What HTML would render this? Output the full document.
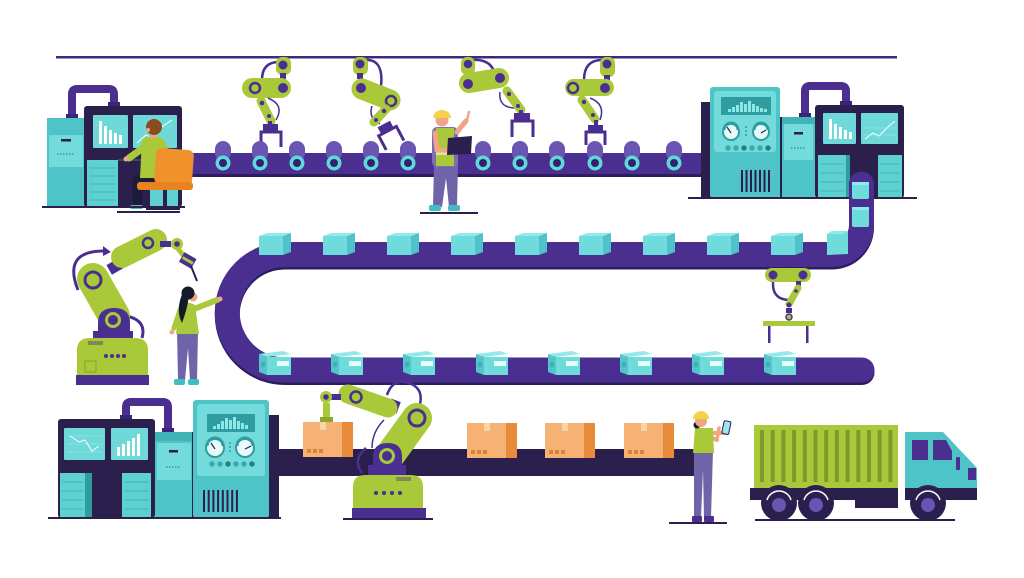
<!DOCTYPE html>
<html><head><meta charset="utf-8"><style>
html,body{margin:0;padding:0;background:#fff;}
svg{display:block}
</style></head><body>
<svg width="1024" height="578" viewBox="0 0 1024 578" xmlns="http://www.w3.org/2000/svg">
<rect width="1024" height="578" fill="#fff"/>
<!-- top rail -->
<rect x="56" y="56" width="841" height="2.5" fill="#3d2a7f"/>

<!-- ============ TOP ROBOTS ============ -->
<!-- robot 1 -->
<g>
<path d="M279,62 Q262,62 262,80" stroke="#4a2f90" stroke-width="2.5" fill="none"/>
<rect x="276" y="57" width="15" height="18" rx="6" fill="#a9c93a"/>
<circle cx="283" cy="65" r="4.5" fill="#4a2f90"/>
<rect x="280" y="73" width="6" height="6" fill="#4a2f90"/>
<rect x="242" y="78" width="49" height="20" rx="10" fill="#a9c93a"/>
<circle cx="255" cy="88" r="5" fill="#a9c93a" stroke="#4a2f90" stroke-width="2.5"/>
<circle cx="283" cy="88" r="5" fill="#4a2f90"/>
<path d="M268,98 Q285,105 276,120" stroke="#4a2f90" stroke-width="1.5" fill="none"/>
<line x1="261" y1="101" x2="271" y2="121" stroke="#a9c93a" stroke-width="9" stroke-linecap="round"/>
<circle cx="262" cy="103" r="2.3" fill="#4a2f90"/><circle cx="269" cy="116" r="2" fill="#4a2f90"/>
<rect x="268" y="121" width="4" height="4" fill="#4a2f90"/>
<rect x="263" y="124" width="15" height="7" fill="#4a2f90"/>
<path d="M261,147 V132 H281 V147" stroke="#4a2f90" stroke-width="3" fill="none"/>
</g>
<!-- robot 2 -->
<g>
<path d="M364,60 Q384,58 381,86" stroke="#4a2f90" stroke-width="2.5" fill="none"/>
<rect x="353" y="57" width="15" height="18" rx="6" fill="#a9c93a"/>
<circle cx="360" cy="64" r="4.5" fill="#4a2f90"/>
<rect x="357" y="73" width="6" height="6" fill="#4a2f90"/>
<line x1="362" y1="89" x2="390" y2="100" stroke="#a9c93a" stroke-width="21" stroke-linecap="round"/>
<circle cx="361" cy="88" r="5" fill="#4a2f90"/>
<circle cx="391" cy="101" r="5" fill="#a9c93a" stroke="#4a2f90" stroke-width="2.5"/>
<path d="M372,106 Q368,118 380,124" stroke="#4a2f90" stroke-width="1.5" fill="none"/>
<line x1="386" y1="109" x2="374" y2="122" stroke="#a9c93a" stroke-width="9" stroke-linecap="round"/>
<circle cx="384" cy="111" r="2.2" fill="#4a2f90"/><circle cx="376" cy="120" r="2" fill="#4a2f90"/>
<g transform="rotate(-28 388 132)">
<rect x="381" y="123" width="14" height="7" fill="#4a2f90"/>
<path d="M378,147 V131 H398 V147" stroke="#4a2f90" stroke-width="3" fill="none"/>
</g>
</g>
<!-- robot 3 -->
<g>
<path d="M472,60 Q494,58 496,80" stroke="#4a2f90" stroke-width="2.5" fill="none"/>
<rect x="461" y="57" width="14" height="18" rx="6" fill="#a9c93a"/>
<circle cx="468" cy="64" r="4.3" fill="#4a2f90"/>
<line x1="469" y1="83" x2="499" y2="78" stroke="#a9c93a" stroke-width="20" stroke-linecap="round"/>
<circle cx="468" cy="84" r="5" fill="#4a2f90"/>
<circle cx="500" cy="78" r="5" fill="#4a2f90"/>
<path d="M500,92 Q498,108 516,108" stroke="#4a2f90" stroke-width="1.5" fill="none"/>
<line x1="507" y1="91" x2="521" y2="110" stroke="#a9c93a" stroke-width="9" stroke-linecap="round"/>
<circle cx="509" cy="94" r="2.2" fill="#4a2f90"/><circle cx="518" cy="106" r="2" fill="#4a2f90"/>
<rect x="519" y="110" width="4" height="4" fill="#4a2f90"/>
<rect x="514" y="113" width="16" height="7" fill="#4a2f90"/>
<path d="M512,137 V121 H533 V137" stroke="#4a2f90" stroke-width="3" fill="none"/>
</g>
<!-- robot 4 -->
<g>
<path d="M602,60 Q584,60 584,80" stroke="#4a2f90" stroke-width="2.5" fill="none"/>
<rect x="600" y="57" width="15" height="20" rx="6" fill="#a9c93a"/>
<circle cx="607" cy="64" r="4.5" fill="#4a2f90"/>
<rect x="604" y="75" width="6" height="5" fill="#4a2f90"/>
<rect x="565" y="79" width="49" height="17" rx="8.5" fill="#a9c93a"/>
<circle cx="573" cy="88" r="5" fill="#a9c93a" stroke="#4a2f90" stroke-width="2.5"/>
<circle cx="605" cy="88" r="5" fill="#4a2f90"/>
<path d="M590,98 Q606,104 600,120" stroke="#4a2f90" stroke-width="1.5" fill="none"/>
<line x1="582" y1="100" x2="595" y2="119" stroke="#a9c93a" stroke-width="9" stroke-linecap="round"/>
<circle cx="584" cy="102" r="2.2" fill="#4a2f90"/><circle cx="593" cy="115" r="2" fill="#4a2f90"/>
<rect x="594" y="120" width="4" height="6" fill="#4a2f90"/>
<rect x="588" y="125" width="15" height="7" fill="#4a2f90"/>
<path d="M586,145 V132 H605 V145" stroke="#4a2f90" stroke-width="3" fill="none"/>
</g>

<!-- ============ TOP BELT ============ -->
<rect x="180" y="153" width="525" height="24" fill="#4a2f90"/>
<rect x="180" y="174" width="525" height="3" fill="#2c1d5e"/>
<g>
<rect x="215" y="141" width="16" height="20" rx="8" fill="#6b55b3"/><circle cx="223" cy="163" r="7.5" fill="#5ed8d8"/><circle cx="223" cy="163" r="4" fill="#34206e"/>
<rect x="252" y="141" width="16" height="20" rx="8" fill="#6b55b3"/><circle cx="260" cy="163" r="7.5" fill="#5ed8d8"/><circle cx="260" cy="163" r="4" fill="#34206e"/>
<rect x="289" y="141" width="16" height="20" rx="8" fill="#6b55b3"/><circle cx="297" cy="163" r="7.5" fill="#5ed8d8"/><circle cx="297" cy="163" r="4" fill="#34206e"/>
<rect x="326" y="141" width="16" height="20" rx="8" fill="#6b55b3"/><circle cx="334" cy="163" r="7.5" fill="#5ed8d8"/><circle cx="334" cy="163" r="4" fill="#34206e"/>
<rect x="363" y="141" width="16" height="20" rx="8" fill="#6b55b3"/><circle cx="371" cy="163" r="7.5" fill="#5ed8d8"/><circle cx="371" cy="163" r="4" fill="#34206e"/>
<rect x="400" y="141" width="16" height="20" rx="8" fill="#6b55b3"/><circle cx="408" cy="163" r="7.5" fill="#5ed8d8"/><circle cx="408" cy="163" r="4" fill="#34206e"/>
<rect x="475" y="141" width="16" height="20" rx="8" fill="#6b55b3"/><circle cx="483" cy="163" r="7.5" fill="#5ed8d8"/><circle cx="483" cy="163" r="4" fill="#34206e"/>
<rect x="512" y="141" width="16" height="20" rx="8" fill="#6b55b3"/><circle cx="520" cy="163" r="7.5" fill="#5ed8d8"/><circle cx="520" cy="163" r="4" fill="#34206e"/>
<rect x="549" y="141" width="16" height="20" rx="8" fill="#6b55b3"/><circle cx="557" cy="163" r="7.5" fill="#5ed8d8"/><circle cx="557" cy="163" r="4" fill="#34206e"/>
<rect x="587" y="141" width="16" height="20" rx="8" fill="#6b55b3"/><circle cx="595" cy="163" r="7.5" fill="#5ed8d8"/><circle cx="595" cy="163" r="4" fill="#34206e"/>
<rect x="624" y="141" width="16" height="20" rx="8" fill="#6b55b3"/><circle cx="632" cy="163" r="7.5" fill="#5ed8d8"/><circle cx="632" cy="163" r="4" fill="#34206e"/>
<rect x="666" y="141" width="16" height="20" rx="8" fill="#6b55b3"/><circle cx="674" cy="163" r="7.5" fill="#5ed8d8"/><circle cx="674" cy="163" r="4" fill="#34206e"/>
</g>

<!-- ============ TOP-LEFT MACHINE ============ -->
<path d="M72,118 V94 Q72,89 77,89 H109 Q114,89 114,94 V106" stroke="#4a2f90" stroke-width="8" fill="none"/>
<rect x="66" y="114" width="12" height="5" fill="#3a2478"/>
<rect x="108" y="102" width="12" height="5" fill="#3a2478"/>
<rect x="47" y="118" width="38" height="89" fill="#4ec4c6"/>
<rect x="49" y="135" width="34" height="32" fill="#74dbdc"/>
<rect x="61" y="139" width="10" height="2.5" fill="#2b1f4d"/>
<line x1="57" y1="154" x2="75" y2="154" stroke="#2f9d9f" stroke-width="1.5" stroke-dasharray="1.5 1.5"/>
<rect x="84" y="106" width="98" height="101" rx="3" fill="#2b1f4d"/>
<rect x="93" y="115" width="35" height="33" rx="1" fill="#6fd9da"/>
<rect x="99" y="121" width="3" height="23" fill="#fff"/><rect x="104" y="126" width="3" height="18" fill="#fff"/><rect x="109" y="130" width="3" height="14" fill="#fff"/><rect x="114" y="133" width="3" height="11" fill="#fff"/><rect x="119" y="135" width="3" height="9" fill="#fff"/>
<rect x="133" y="115" width="44" height="33" rx="1" fill="#6fd9da"/>
<polyline points="137,143 146,135 152,138 163,126 172,120" stroke="#fff" stroke-width="1" fill="none"/>
<rect x="87" y="160" width="31" height="47" fill="#5fd0d0"/>
<g stroke="#3fb3b5" stroke-width="1"><line x1="89" y1="168" x2="116" y2="168"/><line x1="89" y1="176" x2="116" y2="176"/><line x1="89" y1="184" x2="116" y2="184"/><line x1="89" y1="192" x2="116" y2="192"/><line x1="89" y1="200" x2="116" y2="200"/></g>
<rect x="118" y="159" width="45" height="2" fill="#4a4266"/>
<rect x="150" y="188" width="28" height="19" fill="#5fd0d0"/>
<!-- seated man -->
<path d="M140,175 H162 V188 H143 L142,206 H133 L132,184 Q132,175 140,175 Z" fill="#1e1a3a"/>
<rect x="130" y="205" width="13" height="4" rx="2" fill="#3fc0c0"/>
<path d="M142,140 Q145,136 155,136 Q166,137 168,150 L168,178 H140 Z" fill="#a9c93a"/>
<line x1="146" y1="146" x2="129" y2="158" stroke="#a9c93a" stroke-width="7" stroke-linecap="round"/>
<circle cx="126" cy="159" r="2.5" fill="#f0a585"/>
<rect x="150" y="132" width="6" height="6" fill="#f0a585"/>
<circle cx="154" cy="127" r="8" fill="#8a4b1e"/>
<circle cx="148" cy="130" r="2" fill="#f0a585"/>
<rect x="155" y="149" width="38" height="36" rx="6" fill="#f0922c" transform="rotate(4 174 167)"/>
<rect x="137" y="182" width="56" height="8" rx="3" fill="#e8831f"/>
<rect x="163" y="190" width="4" height="18" fill="#2b1f4d"/>
<rect x="146" y="207" width="34" height="3" fill="#2b1f4d"/>
<rect x="42" y="206" width="143" height="2" fill="#2b1f4d"/>
<rect x="117" y="211" width="63" height="2" fill="#2b1f4d"/>

<!-- ============ TOP-RIGHT MACHINE ============ -->
<rect x="701" y="102" width="10" height="96" fill="#2b1f4d"/>
<rect x="710" y="87" width="70" height="111" rx="3" fill="#4ec4c6"/>
<rect x="714" y="91" width="62" height="61" rx="3" fill="#74dbdc"/>
<rect x="721" y="97" width="50" height="18" fill="#2f9d9f"/>
<g fill="#8ee8e8">
<rect x="728" y="109" width="3" height="3"/><rect x="732" y="107" width="3" height="5"/><rect x="736" y="105" width="3" height="7"/><rect x="740" y="102" width="3" height="10"/><rect x="744" y="104" width="3" height="8"/><rect x="748" y="101" width="3" height="11"/><rect x="752" y="104" width="3" height="8"/><rect x="756" y="106" width="3" height="6"/><rect x="760" y="108" width="3" height="4"/><rect x="764" y="109" width="3" height="3"/>
</g>
<circle cx="731" cy="132" r="8" fill="#e8fbfb" stroke="#2f9d9f" stroke-width="2"/>
<path d="M724,130 A7,7 0 0 1 738,130" stroke="#2f9d9f" stroke-width="3" fill="none"/>
<line x1="731" y1="133" x2="727" y2="127" stroke="#2b1f4d" stroke-width="1.2"/>
<circle cx="761" cy="132" r="8" fill="#e8fbfb" stroke="#2f9d9f" stroke-width="2"/>
<path d="M754,130 A7,7 0 0 1 768,130" stroke="#2f9d9f" stroke-width="3" fill="none"/>
<line x1="761" y1="133" x2="766" y2="130" stroke="#2b1f4d" stroke-width="1.2"/>
<g fill="#2f9d9f"><circle cx="746" cy="127" r="1"/><circle cx="746" cy="131" r="1"/><circle cx="746" cy="135" r="1"/></g>
<g fill="#3aa7a9"><circle cx="728" cy="148" r="2.7"/><circle cx="736" cy="148" r="2.7"/><circle cx="744" cy="148" r="2.7" fill="#1f7f81"/><circle cx="752" cy="148" r="2.7"/><circle cx="760" cy="148" r="2.7"/><circle cx="768" cy="148" r="2.7" fill="#1f7f81"/></g>
<g fill="#2b1f4d"><rect x="741" y="170" width="2" height="22"/><rect x="745.5" y="170" width="2" height="22"/><rect x="750" y="170" width="2" height="22"/><rect x="754.5" y="170" width="2" height="22"/><rect x="759" y="170" width="2" height="22"/><rect x="763.5" y="170" width="2" height="22"/><rect x="768" y="170" width="2" height="22"/></g>
<rect x="780" y="117" width="2" height="81" fill="#2b1f4d"/>
<path d="M805,117 V91 Q805,86 810,86 H841 Q846,86 846,91 V105" stroke="#4a2f90" stroke-width="8" fill="none"/>
<rect x="799" y="113" width="12" height="5" fill="#3a2478"/>
<rect x="840" y="101" width="12" height="5" fill="#3a2478"/>
<rect x="782" y="117" width="33" height="81" fill="#4ec4c6"/>
<rect x="782" y="117" width="33" height="7" fill="#3fb3b5"/>
<rect x="784" y="124" width="29" height="36" fill="#74dbdc"/>
<rect x="794" y="132" width="9" height="2.5" fill="#2b1f4d"/>
<line x1="791" y1="148" x2="806" y2="148" stroke="#2f9d9f" stroke-width="1.5" stroke-dasharray="1.5 1.5"/>
<rect x="815" y="105" width="89" height="93" rx="3" fill="#2b1f4d"/>
<rect x="823" y="113" width="33" height="31" rx="1" fill="#6fd9da"/>
<rect x="829" y="119" width="3" height="20" fill="#fff"/><rect x="834" y="124" width="3" height="15" fill="#fff"/><rect x="839" y="127" width="3" height="12" fill="#fff"/><rect x="844" y="130" width="3" height="9" fill="#fff"/><rect x="849" y="132" width="3" height="7" fill="#fff"/>
<rect x="861" y="113" width="37" height="31" rx="1" fill="#6fd9da"/>
<polyline points="865,139 873,133 879,136 888,127 895,121" stroke="#fff" stroke-width="1" fill="none"/>
<line x1="864" y1="135" x2="896" y2="135" stroke="#9ee9ea" stroke-width="0.6"/>
<line x1="864" y1="128" x2="896" y2="128" stroke="#9ee9ea" stroke-width="0.6"/>
<rect x="818" y="155" width="28" height="43" fill="#5fd0d0"/>
<rect x="878" y="155" width="24" height="43" fill="#5fd0d0"/>
<rect x="846" y="155" width="4" height="43" fill="#2f9d9f"/>
<g stroke="#3fb3b5" stroke-width="1"><line x1="820" y1="164" x2="844" y2="164"/><line x1="820" y1="173" x2="844" y2="173"/><line x1="820" y1="182" x2="844" y2="182"/><line x1="820" y1="191" x2="844" y2="191"/><line x1="880" y1="164" x2="900" y2="164"/><line x1="880" y1="173" x2="900" y2="173"/><line x1="880" y1="182" x2="900" y2="182"/><line x1="880" y1="191" x2="900" y2="191"/></g>
<rect x="688" y="197" width="229" height="2" fill="#2b1f4d"/>

<!-- ============ S BELT ============ -->
<path d="M861.5,184 V225 A29.5,29.5 0 0 1 832,254.5 H285 A57.75,57.75 0 0 0 285,370 H862" stroke="#2c1d5e" stroke-width="25" fill="none" stroke-linecap="round" transform="translate(0,2.5)"/>
<path d="M861.5,184 V225 A29.5,29.5 0 0 1 832,254.5 H285 A57.75,57.75 0 0 0 285,370 H862" stroke="#4a2f90" stroke-width="25" fill="none" stroke-linecap="round"/>

<!-- boxes on vertical section -->
<rect x="852" y="182" width="17" height="17" rx="2" fill="#6fdcdc"/><rect x="852" y="182" width="17" height="3" fill="#93e9e9"/>
<rect x="852" y="207" width="17" height="20" rx="2" fill="#6fdcdc"/><rect x="852" y="207" width="17" height="3" fill="#93e9e9"/>
<polygon points="827,234 832,231 848,231 848,254 827,255" fill="#6fdcdc"/><polygon points="827,234 832,231 848,231 843,234" fill="#93e9e9"/>

<!-- upper belt boxes -->
<g id="ub">
<polygon points="259,236 267,233 291,233 283,236" fill="#93e9e9"/><rect x="259" y="236" width="24" height="19" fill="#6fdcdc"/><polygon points="283,236 291,233 291,252 283,255" fill="#4fc3c8"/>
</g>
<g transform="translate(64 0)"><polygon points="259,236 267,233 291,233 283,236" fill="#93e9e9"/><rect x="259" y="236" width="24" height="19" fill="#6fdcdc"/><polygon points="283,236 291,233 291,252 283,255" fill="#4fc3c8"/></g>
<g transform="translate(128 0)"><polygon points="259,236 267,233 291,233 283,236" fill="#93e9e9"/><rect x="259" y="236" width="24" height="19" fill="#6fdcdc"/><polygon points="283,236 291,233 291,252 283,255" fill="#4fc3c8"/></g>
<g transform="translate(192 0)"><polygon points="259,236 267,233 291,233 283,236" fill="#93e9e9"/><rect x="259" y="236" width="24" height="19" fill="#6fdcdc"/><polygon points="283,236 291,233 291,252 283,255" fill="#4fc3c8"/></g>
<g transform="translate(256 0)"><polygon points="259,236 267,233 291,233 283,236" fill="#93e9e9"/><rect x="259" y="236" width="24" height="19" fill="#6fdcdc"/><polygon points="283,236 291,233 291,252 283,255" fill="#4fc3c8"/></g>
<g transform="translate(320 0)"><polygon points="259,236 267,233 291,233 283,236" fill="#93e9e9"/><rect x="259" y="236" width="24" height="19" fill="#6fdcdc"/><polygon points="283,236 291,233 291,252 283,255" fill="#4fc3c8"/></g>
<g transform="translate(384 0)"><polygon points="259,236 267,233 291,233 283,236" fill="#93e9e9"/><rect x="259" y="236" width="24" height="19" fill="#6fdcdc"/><polygon points="283,236 291,233 291,252 283,255" fill="#4fc3c8"/></g>
<g transform="translate(448 0)"><polygon points="259,236 267,233 291,233 283,236" fill="#93e9e9"/><rect x="259" y="236" width="24" height="19" fill="#6fdcdc"/><polygon points="283,236 291,233 291,252 283,255" fill="#4fc3c8"/></g>
<g transform="translate(512 0)"><polygon points="259,236 267,233 291,233 283,236" fill="#93e9e9"/><rect x="259" y="236" width="24" height="19" fill="#6fdcdc"/><polygon points="283,236 291,233 291,252 283,255" fill="#4fc3c8"/></g>

<!-- lower belt boxes -->
<g>
<polygon points="259,354 283,351 291,354 267,357" fill="#93e9e9"/><polygon points="259,354 267,357 267,375 259,372" fill="#52c6cb"/><rect x="267" y="357" width="24" height="18" fill="#6fdcdc"/><rect x="277" y="361" width="12" height="5" fill="#e8fdfd"/><rect x="261" y="362" width="4" height="5" fill="#3aa0a6" opacity="0.6"/>
</g>
<g transform="translate(72 0)"><polygon points="259,354 283,351 291,354 267,357" fill="#93e9e9"/><polygon points="259,354 267,357 267,375 259,372" fill="#52c6cb"/><rect x="267" y="357" width="24" height="18" fill="#6fdcdc"/><rect x="277" y="361" width="12" height="5" fill="#e8fdfd"/><rect x="261" y="362" width="4" height="5" fill="#3aa0a6" opacity="0.6"/></g>
<g transform="translate(144 0)"><polygon points="259,354 283,351 291,354 267,357" fill="#93e9e9"/><polygon points="259,354 267,357 267,375 259,372" fill="#52c6cb"/><rect x="267" y="357" width="24" height="18" fill="#6fdcdc"/><rect x="277" y="361" width="12" height="5" fill="#e8fdfd"/><rect x="261" y="362" width="4" height="5" fill="#3aa0a6" opacity="0.6"/></g>
<g transform="translate(217 0)"><polygon points="259,354 283,351 291,354 267,357" fill="#93e9e9"/><polygon points="259,354 267,357 267,375 259,372" fill="#52c6cb"/><rect x="267" y="357" width="24" height="18" fill="#6fdcdc"/><rect x="277" y="361" width="12" height="5" fill="#e8fdfd"/><rect x="261" y="362" width="4" height="5" fill="#3aa0a6" opacity="0.6"/></g>
<g transform="translate(289 0)"><polygon points="259,354 283,351 291,354 267,357" fill="#93e9e9"/><polygon points="259,354 267,357 267,375 259,372" fill="#52c6cb"/><rect x="267" y="357" width="24" height="18" fill="#6fdcdc"/><rect x="277" y="361" width="12" height="5" fill="#e8fdfd"/><rect x="261" y="362" width="4" height="5" fill="#3aa0a6" opacity="0.6"/></g>
<g transform="translate(361 0)"><polygon points="259,354 283,351 291,354 267,357" fill="#93e9e9"/><polygon points="259,354 267,357 267,375 259,372" fill="#52c6cb"/><rect x="267" y="357" width="24" height="18" fill="#6fdcdc"/><rect x="277" y="361" width="12" height="5" fill="#e8fdfd"/><rect x="261" y="362" width="4" height="5" fill="#3aa0a6" opacity="0.6"/></g>
<g transform="translate(433 0)"><polygon points="259,354 283,351 291,354 267,357" fill="#93e9e9"/><polygon points="259,354 267,357 267,375 259,372" fill="#52c6cb"/><rect x="267" y="357" width="24" height="18" fill="#6fdcdc"/><rect x="277" y="361" width="12" height="5" fill="#e8fdfd"/><rect x="261" y="362" width="4" height="5" fill="#3aa0a6" opacity="0.6"/></g>
<g transform="translate(505 0)"><polygon points="259,354 283,351 291,354 267,357" fill="#93e9e9"/><polygon points="259,354 267,357 267,375 259,372" fill="#52c6cb"/><rect x="267" y="357" width="24" height="18" fill="#6fdcdc"/><rect x="277" y="361" width="12" height="5" fill="#e8fdfd"/><rect x="261" y="362" width="4" height="5" fill="#3aa0a6" opacity="0.6"/></g>

<!-- gantry robot -->
<path d="M773,282 Q772,300 790,300" stroke="#4a2f90" stroke-width="2.5" fill="none"/>
<rect x="765" y="268" width="46" height="14" rx="7" fill="#a9c93a"/>
<circle cx="773" cy="275" r="4.5" fill="#4a2f90"/><circle cx="803" cy="275" r="4.5" fill="#4a2f90"/>
<rect x="796" y="281" width="5" height="5" fill="#4a2f90"/>
<line x1="798" y1="288" x2="789" y2="304" stroke="#a9c93a" stroke-width="7" stroke-linecap="round"/>
<circle cx="796" cy="291" r="1.8" fill="#4a2f90"/>
<circle cx="789" cy="305" r="2.5" fill="#4a2f90"/>
<rect x="786" y="308" width="6" height="5" fill="#4a2f90"/>
<circle cx="789" cy="317" r="3" fill="#a9c93a" stroke="#4a2f90" stroke-width="1.5"/>
<rect x="763" y="321" width="52" height="5" fill="#a9c93a"/>
<rect x="768" y="326" width="2.5" height="17" fill="#4a2f90"/>
<rect x="806" y="326" width="2.5" height="17" fill="#4a2f90"/>

<!-- ============ MIDDLE-LEFT ROBOT ============ -->
<path d="M78,290 Q62,250 106,251" stroke="#4a2f90" stroke-width="3" fill="none"/>
<path d="M103,246 L111,252 L103,256 Z" fill="#4a2f90"/>
<path d="M126,316 Q147,320 142,338" stroke="#4a2f90" stroke-width="3" fill="none"/>
<line x1="93" y1="279" x2="114" y2="316" stroke="#a9c93a" stroke-width="32" stroke-linecap="round"/>
<circle cx="93" cy="280" r="8" fill="#a9c93a" stroke="#4a2f90" stroke-width="3"/>
<rect x="108" y="261" width="14" height="11" fill="#4a2f90" transform="rotate(-30 115 266)"/>
<line x1="122" y1="257" x2="156" y2="240" stroke="#a9c93a" stroke-width="22" stroke-linecap="round"/>
<circle cx="148" cy="243" r="5" fill="#a9c93a" stroke="#4a2f90" stroke-width="2.5"/>
<rect x="160" y="241" width="11" height="6" fill="#4a2f90"/>
<circle cx="177" cy="244" r="6" fill="#a9c93a"/><circle cx="177" cy="244" r="2.8" fill="#4a2f90"/>
<line x1="178" y1="249" x2="185" y2="257" stroke="#a9c93a" stroke-width="5"/>
<rect x="181" y="255" width="14" height="11" fill="#4a2f90" transform="rotate(30 188 260)"/>
<rect x="182" y="259" width="12" height="3" fill="#a9c93a" transform="rotate(30 188 260)"/>
<line x1="191" y1="266" x2="197" y2="281" stroke="#2b1f4d" stroke-width="2"/>
<path d="M98,338 V323 Q98,308 114,308 Q130,308 130,323 V338 Z" fill="#4a2f90"/>
<rect x="93" y="331" width="40" height="8" fill="#4a2f90"/>
<circle cx="113" cy="320" r="6.5" fill="#4a2f90" stroke="#a9c93a" stroke-width="3"/>
<path d="M77,375 V350 Q77,338 90,338 H135 Q148,338 148,350 V375 Z" fill="#a9c93a"/>
<rect x="88" y="341" width="15" height="4" fill="#7d8a55"/>
<g fill="#4a2f90"><circle cx="106" cy="356" r="2"/><circle cx="112" cy="356" r="2"/><circle cx="118" cy="356" r="2"/><circle cx="124" cy="356" r="2"/></g>
<rect x="85" y="361" width="11" height="11" fill="none" stroke="#86a02c" stroke-width="1"/>
<rect x="76" y="375" width="73" height="10" fill="#4a2f90"/>

<!-- woman middle -->
<path d="M177,332 H198 L197,380 H190 L188,348 L185,380 H178 Z" fill="#6f64a8"/>
<rect x="174" y="379" width="11" height="6" rx="2" fill="#3fc0c0"/>
<rect x="188" y="379" width="11" height="6" rx="2" fill="#3fc0c0"/>
<path d="M179,306 Q187,300 195,305 L199,334 H176 Z" fill="#a9c93a"/>
<line x1="194" y1="309" x2="217" y2="300" stroke="#a9c93a" stroke-width="6" stroke-linecap="round"/>
<circle cx="220" cy="299" r="2.5" fill="#f0a585"/>
<line x1="180" y1="310" x2="174" y2="328" stroke="#a9c93a" stroke-width="5" stroke-linecap="round"/>
<circle cx="172" cy="332" r="2.5" fill="#f0a585"/>
<circle cx="193" cy="297" r="4.5" fill="#f0a585"/>
<circle cx="188" cy="293" r="6.5" fill="#151a2b"/>
<path d="M183,292 Q175,310 182,323 Q187,310 189,296 Z" fill="#151a2b"/>

<!-- ============ BOTTOM-LEFT MACHINES ============ -->
<path d="M126,419 V407 Q126,402 131,402 H163 Q168,402 168,407 V432" stroke="#4a2f90" stroke-width="8" fill="none"/>
<rect x="120" y="415" width="12" height="5" fill="#3a2478"/>
<rect x="162" y="428" width="12" height="5" fill="#3a2478"/>
<rect x="58" y="419" width="97" height="99" rx="3" fill="#2b1f4d"/>
<rect x="64" y="428" width="41" height="32" rx="1" fill="#6fd9da"/>
<g stroke="#9ee9ea" stroke-width="0.6"><line x1="67" y1="436" x2="102" y2="436"/><line x1="67" y1="444" x2="102" y2="444"/><line x1="67" y1="452" x2="102" y2="452"/></g>
<polyline points="70,436 79,442 85,440 92,451 99,446" stroke="#fff" stroke-width="1" fill="none"/>
<rect x="111" y="428" width="37" height="32" rx="1" fill="#6fd9da"/>
<rect x="117" y="447" width="3" height="9" fill="#fff"/><rect x="122" y="444" width="3" height="12" fill="#fff"/><rect x="127" y="441" width="3" height="15" fill="#fff"/><rect x="132" y="438" width="3" height="18" fill="#fff"/><rect x="137" y="434" width="3" height="22" fill="#fff"/>
<rect x="60" y="473" width="25" height="45" fill="#5fd0d0"/>
<rect x="85" y="473" width="7" height="45" fill="#2f9d9f"/>
<rect x="122" y="473" width="29" height="45" fill="#5fd0d0"/>
<g stroke="#3fb3b5" stroke-width="1"><line x1="62" y1="482" x2="83" y2="482"/><line x1="62" y1="491" x2="83" y2="491"/><line x1="62" y1="500" x2="83" y2="500"/><line x1="62" y1="509" x2="83" y2="509"/><line x1="124" y1="482" x2="149" y2="482"/><line x1="124" y1="491" x2="149" y2="491"/><line x1="124" y1="500" x2="149" y2="500"/><line x1="124" y1="509" x2="149" y2="509"/></g>
<rect x="155" y="432" width="37" height="86" fill="#4ec4c6"/>
<rect x="155" y="432" width="37" height="9" fill="#3fb3b5"/>
<rect x="157" y="443" width="34" height="37" fill="#74dbdc"/>
<rect x="169" y="450" width="9" height="2.5" fill="#2b1f4d"/>
<line x1="166" y1="467" x2="181" y2="467" stroke="#2f9d9f" stroke-width="1.5" stroke-dasharray="1.5 1.5"/>
<rect x="192" y="432" width="2" height="86" fill="#2b1f4d"/>
<rect x="268" y="415" width="11" height="103" fill="#2b1f4d"/>
<rect x="193" y="400" width="76" height="118" rx="3" fill="#4ec4c6"/>
<rect x="197" y="404" width="68" height="72" rx="3" fill="#74dbdc"/>
<rect x="207" y="414" width="48" height="18" fill="#2f9d9f"/>
<g fill="#8ee8e8">
<rect x="213" y="426" width="3" height="3"/><rect x="217" y="424" width="3" height="5"/><rect x="221" y="421" width="3" height="8"/><rect x="225" y="418" width="3" height="11"/><rect x="229" y="420" width="3" height="9"/><rect x="233" y="417" width="3" height="12"/><rect x="237" y="421" width="3" height="8"/><rect x="241" y="423" width="3" height="6"/><rect x="245" y="425" width="3" height="4"/>
</g>
<circle cx="215" cy="448" r="9" fill="#e8fbfb" stroke="#2f9d9f" stroke-width="2"/>
<path d="M207,446 A8,8 0 0 1 223,446" stroke="#2f9d9f" stroke-width="3" fill="none"/>
<line x1="215" y1="449" x2="211" y2="443" stroke="#2b1f4d" stroke-width="1.2"/>
<circle cx="245" cy="448" r="9" fill="#e8fbfb" stroke="#2f9d9f" stroke-width="2"/>
<path d="M237,446 A8,8 0 0 1 253,446" stroke="#2f9d9f" stroke-width="3" fill="none"/>
<line x1="245" y1="449" x2="251" y2="446" stroke="#2b1f4d" stroke-width="1.2"/>
<g fill="#2f9d9f"><circle cx="230" cy="443" r="1"/><circle cx="230" cy="447" r="1"/><circle cx="230" cy="451" r="1"/></g>
<g fill="#3aa7a9"><circle cx="212" cy="464" r="2.7"/><circle cx="220" cy="464" r="2.7"/><circle cx="228" cy="464" r="2.7" fill="#1f7f81"/><circle cx="236" cy="464" r="2.7"/><circle cx="244" cy="464" r="2.7"/><circle cx="252" cy="464" r="2.7" fill="#1f7f81"/></g>
<g fill="#2b1f4d"><rect x="203" y="490" width="2" height="22"/><rect x="207.7" y="490" width="2" height="22"/><rect x="212.4" y="490" width="2" height="22"/><rect x="217.1" y="490" width="2" height="22"/><rect x="221.8" y="490" width="2" height="22"/><rect x="226.5" y="490" width="2" height="22"/><rect x="231.2" y="490" width="2" height="22"/><rect x="235.9" y="490" width="2" height="22"/></g>
<rect x="48" y="517" width="233" height="2" fill="#2b1f4d"/>

<!-- ============ BOTTOM BELT ============ -->
<rect x="279" y="449" width="419" height="27" fill="#2b1f4d"/>
<!-- orange boxes -->
<g>
<rect x="303" y="422" width="39" height="35" fill="#f6b274"/><rect x="342" y="422" width="11" height="35" fill="#e88c3c"/><rect x="320" y="422" width="6" height="8" fill="#fbd3a8"/><g fill="#d9823c"><rect x="307" y="449" width="4" height="4"/><rect x="313" y="449" width="4" height="4"/><rect x="319" y="449" width="4" height="4"/></g>
</g>
<g transform="translate(164 1)"><rect x="303" y="422" width="39" height="35" fill="#f6b274"/><rect x="342" y="422" width="11" height="35" fill="#e88c3c"/><rect x="320" y="422" width="6" height="8" fill="#fbd3a8"/><g fill="#d9823c"><rect x="307" y="449" width="4" height="4"/><rect x="313" y="449" width="4" height="4"/><rect x="319" y="449" width="4" height="4"/></g></g>
<g transform="translate(242 1)"><rect x="303" y="422" width="39" height="35" fill="#f6b274"/><rect x="342" y="422" width="11" height="35" fill="#e88c3c"/><rect x="320" y="422" width="6" height="8" fill="#fbd3a8"/><g fill="#d9823c"><rect x="307" y="449" width="4" height="4"/><rect x="313" y="449" width="4" height="4"/><rect x="319" y="449" width="4" height="4"/></g></g>
<g transform="translate(321 1)"><rect x="303" y="422" width="39" height="35" fill="#f6b274"/><rect x="342" y="422" width="11" height="35" fill="#e88c3c"/><rect x="320" y="422" width="6" height="8" fill="#fbd3a8"/><g fill="#d9823c"><rect x="307" y="449" width="4" height="4"/><rect x="313" y="449" width="4" height="4"/><rect x="319" y="449" width="4" height="4"/></g></g>

<!-- ============ BOTTOM ROBOT ============ -->
<path d="M387,395 Q392,380 405,382 Q424,386 420,404" stroke="#4a2f90" stroke-width="2.5" fill="none"/>
<path d="M362,473 Q352,460 366,448" stroke="#4a2f90" stroke-width="2.5" fill="none"/>
<line x1="417" y1="418" x2="388" y2="458" stroke="#a9c93a" stroke-width="30" stroke-linecap="round"/>
<path d="M384,420 Q372,432 372,448" stroke="#4a2f90" stroke-width="1.5" fill="none"/>
<circle cx="417" cy="418" r="8" fill="#a9c93a" stroke="#4a2f90" stroke-width="3"/>
<rect x="389" y="400" width="10" height="12" fill="#4a2f90" transform="rotate(20 394 406)"/>
<line x1="348" y1="394" x2="388" y2="408" stroke="#a9c93a" stroke-width="19" stroke-linecap="round"/>
<circle cx="356" cy="397" r="5.5" fill="#a9c93a" stroke="#4a2f90" stroke-width="2.5"/>
<rect x="331" y="394" width="10" height="6" fill="#4a2f90"/>
<circle cx="326" cy="397" r="6" fill="#a9c93a"/><circle cx="326" cy="397" r="2.8" fill="#4a2f90"/>
<rect x="323" y="403" width="7" height="15" fill="#a9c93a"/>
<rect x="320" y="417" width="13" height="5" fill="#8ea530"/>
<path d="M373,475 V457 Q373,443 388,443 Q402,443 402,457 V475 Z" fill="#4a2f90"/>
<rect x="368" y="465" width="38" height="11" fill="#4a2f90"/>
<circle cx="387" cy="456" r="6.5" fill="#4a2f90" stroke="#a9c93a" stroke-width="3"/>
<path d="M353,508 V487 Q353,475 365,475 H411 Q423,475 423,487 V508 Z" fill="#a9c93a"/>
<rect x="396" y="477" width="15" height="4" fill="#7d8a55"/>
<g fill="#4a2f90"><circle cx="376" cy="493" r="2"/><circle cx="384" cy="493" r="2"/><circle cx="392" cy="493" r="2"/><circle cx="400" cy="493" r="2"/></g>
<rect x="352" y="508" width="74" height="10" fill="#4a2f90"/>
<rect x="343" y="518" width="90" height="2" fill="#2b1f4d"/>

<!-- ============ BOTTOM-RIGHT WORKER ============ -->
<path d="M694,450 H713 L711,518 H704 L703,470 L701,518 H694 Z" fill="#6f64a8"/>
<rect x="692" y="516" width="10" height="6" rx="1" fill="#4a2f90"/>
<rect x="704" y="516" width="10" height="6" rx="1" fill="#4a2f90"/>
<line x1="700" y1="433" x2="717" y2="440" stroke="#f0a585" stroke-width="4" stroke-linecap="round"/>
<line x1="717" y1="440" x2="719" y2="428" stroke="#f0a585" stroke-width="3.5" stroke-linecap="round"/>
<line x1="710" y1="433" x2="725" y2="433" stroke="#f0a585" stroke-width="4" stroke-linecap="round"/>
<path d="M695,428 H713 L714,453 H693 Z" fill="#a9c93a"/>
<rect x="723" y="421" width="7" height="13" rx="1.5" fill="#9fe3f2" stroke="#2b1f4d" stroke-width="1" transform="rotate(12 726 427)"/>
<circle cx="697" cy="425" r="3.5" fill="#151a2b"/>
<circle cx="701" cy="421" r="6" fill="#f0a585"/>
<path d="M693,419 A8,8 0 0 1 709,419 Z" fill="#f3d34a"/>
<rect x="669" y="522" width="58" height="2" fill="#2b1f4d"/>

<!-- ============ TOP-MIDDLE WORKER ============ -->
<path d="M434,164 H458 L457,207 H449 L446,178 L442,207 H433 Z" fill="#6f64a8"/>
<rect x="429" y="205" width="12" height="6" rx="2" fill="#3fc0c0"/>
<rect x="448" y="205" width="12" height="6" rx="2" fill="#3fc0c0"/>
<rect x="432" y="127" width="26" height="40" rx="5" fill="#7b6fb2"/>
<rect x="436" y="128" width="18" height="38" fill="#a9c93a"/>
<rect x="436" y="152" width="18" height="3" fill="#d9e89a"/>
<line x1="435" y1="133" x2="437" y2="150" stroke="#f0a585" stroke-width="5" stroke-linecap="round"/>
<line x1="437" y1="150" x2="450" y2="150" stroke="#f0a585" stroke-width="5" stroke-linecap="round"/>
<polygon points="448,138 472,136 471,154 447,155" fill="#2b1f4d"/>
<line x1="457" y1="132" x2="466" y2="121" stroke="#f0a585" stroke-width="5" stroke-linecap="round"/>
<line x1="467" y1="120" x2="469" y2="112" stroke="#f0a585" stroke-width="2.5" stroke-linecap="round"/>
<circle cx="442" cy="120" r="6.5" fill="#f0a585"/>
<path d="M433,118 A9,8 0 0 1 451,118 Z" fill="#f3d34a"/>
<rect x="420" y="212" width="58" height="2" fill="#2b1f4d"/>

<!-- ============ TRUCK ============ -->
<rect x="754" y="425" width="144" height="63" fill="#a9c93a"/>
<g fill="#7e9a2a">
<rect x="760" y="430" width="4" height="52"/><rect x="770.7" y="430" width="4" height="52"/><rect x="781.4" y="430" width="4" height="52"/><rect x="792.1" y="430" width="4" height="52"/><rect x="802.8" y="430" width="4" height="52"/><rect x="813.5" y="430" width="4" height="52"/><rect x="824.2" y="430" width="4" height="52"/><rect x="834.9" y="430" width="4" height="52"/><rect x="845.6" y="430" width="4" height="52"/><rect x="856.3" y="430" width="4" height="52"/><rect x="867" y="430" width="4" height="52"/><rect x="877.7" y="430" width="4" height="52"/><rect x="888.4" y="430" width="4" height="52"/>
</g>
<path d="M905,432 H943 L977,468 V488 H905 Z" fill="#4ec4c6"/>
<rect x="912" y="440" width="16" height="20" fill="#4a2f90"/>
<path d="M933,440 H946 L952,451 V460 H933 Z" fill="#4a2f90"/>
<rect x="956" y="457" width="4" height="13" rx="1" fill="#4a2f90"/>
<rect x="968" y="468" width="8" height="12" fill="#4a2f90"/>
<circle cx="779" cy="503" r="18" fill="#2b1f4d"/>
<circle cx="816" cy="503" r="18" fill="#2b1f4d"/>
<circle cx="928" cy="503" r="18" fill="#2b1f4d"/>
<rect x="750" y="488" width="148" height="12" fill="#2b1f4d"/>
<rect x="905" y="488" width="72" height="12" fill="#2b1f4d"/>
<rect x="855" y="499" width="43" height="9" fill="#2b1f4d"/>
<g>
<circle cx="779" cy="505" r="14" fill="#2b1f4d"/><path d="M767,500 A12.5,12.5 0 0 1 791,500" stroke="#fff" stroke-width="1.5" fill="none"/><circle cx="779" cy="505" r="7" fill="#6b55b3"/>
<circle cx="816" cy="505" r="14" fill="#2b1f4d"/><path d="M804,500 A12.5,12.5 0 0 1 828,500" stroke="#fff" stroke-width="1.5" fill="none"/><circle cx="816" cy="505" r="7" fill="#6b55b3"/>
<circle cx="928" cy="505" r="14" fill="#2b1f4d"/><path d="M916,500 A12.5,12.5 0 0 1 940,500" stroke="#fff" stroke-width="1.5" fill="none"/><circle cx="928" cy="505" r="7" fill="#6b55b3"/>
</g>
<rect x="755" y="519" width="200" height="2" fill="#2b1f4d"/>
</svg>
</body></html>
